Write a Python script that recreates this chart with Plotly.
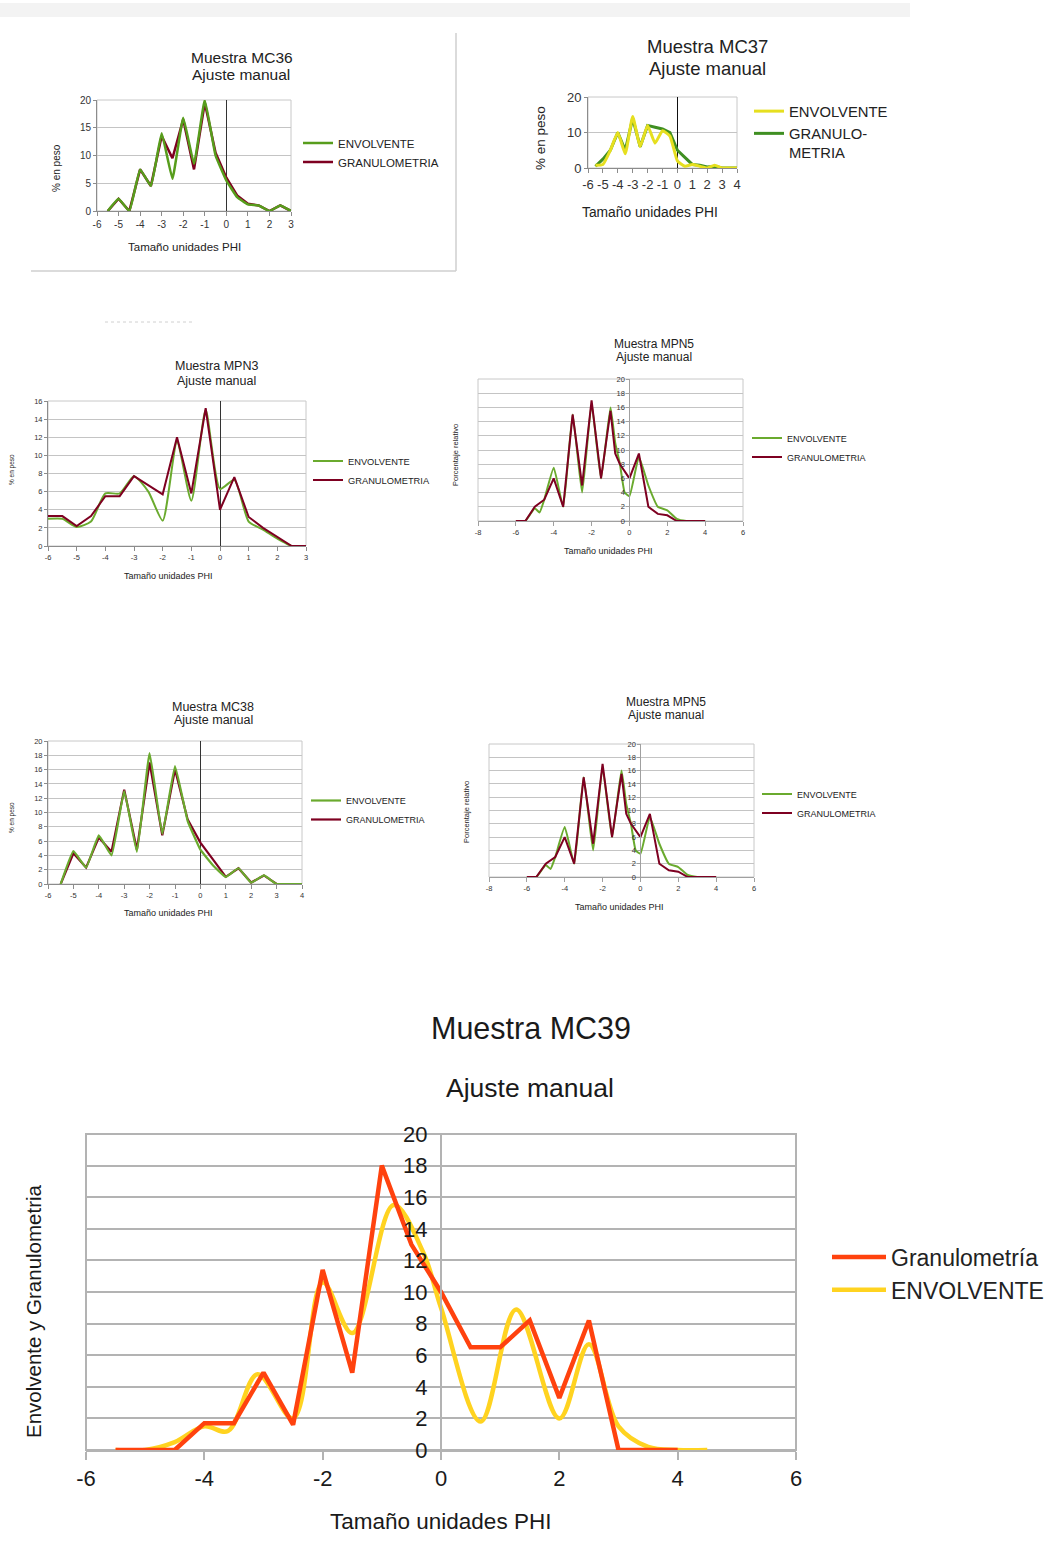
import plotly.graph_objects as go

W, H = 1049, 1551
FONT = "Liberation Sans, Arial, sans-serif"

# ---------------- data ----------------
# Muestra MC36
mc36_x = [-5.5, -5, -4.5, -4, -3.5, -3, -2.5, -2, -1.5, -1, -0.5, 0, 0.5, 1, 1.5, 2, 2.5, 3]
mc36_env = [0, 2.2, 0, 7.5, 4.5, 14, 5.8, 16.8, 8.5, 20, 10, 5.5, 2.5, 1.2, 1, 0, 1, 0]
mc36_gran = [0, 2.2, 0, 7.5, 4.5, 13.5, 9.5, 16.5, 7.5, 19.5, 10.5, 6, 2.8, 1.3, 1, 0, 1, 0]

# Muestra MC37
mc37_x = [-5.5, -5, -4.5, -4, -3.5, -3, -2.5, -2, -1.5, -1, -0.5, 0, 0.5, 1, 1.5, 2, 2.5, 3, 3.5, 4]
mc37_env = [0.8, 1, 5, 10, 4, 14.5, 6, 12, 7, 10.5, 9, 2, 0.5, 1, 0.5, 0, 0.8, 0, 0, 0]
mc37_gran = [0.5, 2.5, 5, 10, 5, 14, 6, 12, 11.5, 11, 10, 5, 3, 1, 0.8, 0.3, 0.5, 0, 0, 0]

# Muestra MPN3
mpn3_x = [-6, -5.5, -5, -4.5, -4, -3.5, -3, -2.5, -2, -1.5, -1, -0.5, 0, 0.5, 1, 1.5, 2, 2.5, 3]
mpn3_env = [3, 3, 2.1, 2.7, 5.8, 5.8, 7.7, 6, 2.8, 11.5, 5, 15, 6.3, 7.3, 2.7, 1.8, 0.8, 0, 0]
mpn3_gran = [3.3, 3.3, 2.2, 3.3, 5.5, 5.5, 7.7, 6.7, 5.7, 12, 5.8, 15.2, 4, 7.6, 3.2, 2, 1, 0, 0]

# Muestra MPN5
mpn5_x = [-6, -5.5, -5, -4.75, -4.5, -4, -3.5, -3, -2.5, -2, -1.5, -1, -0.75, -0.5, -0.25, 0,
          0.5, 1, 1.5, 2, 2.5, 3, 4]
mpn5_env = [0, 0, 1.8, 1.2, 3, 7.5, 2, 15, 4, 16.5, 6, 16, 11, 8, 4, 3.5, 9, 5, 2, 1.5, 0.3, 0, 0]
mpn5_gran = [0, 0, 2, 2.5, 3, 6, 2, 15, 5, 17, 6, 15.5, 9.5, 8, 7, 6, 9.5, 2, 1, 0.8, 0, 0, 0]

# Muestra MC38
mc38_x = [-5.5, -5, -4.5, -4, -3.5, -3, -2.5, -2, -1.5, -1, -0.5, 0, 0.5, 1, 1.5, 2, 2.5, 3, 3.5, 4]
mc38_env = [0, 4.6, 2.3, 6.8, 4, 13, 4.5, 18.3, 7, 16.5, 8.8, 4.8, 2.6, 1, 2.2, 0.2, 1.2, 0, 0, 0]
mc38_gran = [0, 4.3, 2.3, 6.5, 4.5, 13.2, 4.8, 17, 6.8, 16, 9, 5.8, 3.4, 1, 2.2, 0.2, 1.2, 0, 0, 0]

# Muestra MC39
mc39_gx = [-5.5, -5, -4.5, -4, -3.5, -3, -2.5, -2, -1.5, -1, -0.5, 0, 0.5, 1, 1.5, 2, 2.5, 3, 3.5, 4]
mc39_gran = [0, 0, 0, 1.7, 1.7, 4.9, 1.6, 11.4, 4.9, 18, 13, 10, 6.5, 6.5, 8.2, 3.3, 8.2, 0, 0, 0]
mc39_ex = [-5.5, -5, -4.5, -4, -3.6, -3.1, -2.5, -2, -1.5, -0.8, -0.3, 0, 0.67, 1.27, 2, 2.5, 3,
           3.5, 4, 4.5]
mc39_env = [0, 0, 0.5, 1.5, 1.2, 4.8, 2, 10.6, 7.4, 15.5, 12.5, 9, 1.8, 8.9, 2, 6.7, 1.5, 0.2, 0, 0]

# tick values (labels are written with a plain hyphen, as in the source charts)
ticks_x_6_3 = [-6, -5, -4, -3, -2, -1, 0, 1, 2, 3]
ticks_x_6_4 = [-6, -5, -4, -3, -2, -1, 0, 1, 2, 3, 4]
ticks_x_8_6 = [-8, -6, -4, -2, 0, 2, 4, 6]
ticks_x_6_6 = [-6, -4, -2, 0, 2, 4, 6]

# ---------------- styling ----------------
GREEN = "#579d1c"
DRED = "#7e0021"
YELLOW37 = "#e6df1f"
GREEN37 = "#3f8f22"
YELLOW = "#ffd320"
ORANGE = "#ff420e"

fig = go.Figure()


def sfx(i):
    return "" if i == 1 else str(i)


def add_line(x, y, name, color, width, i, spline=0.0):
    line = dict(color=color, width=width)
    if spline:
        line.update(shape="spline", smoothing=spline)
    fig.add_trace(go.Scatter(x=x, y=y, name=name, mode="lines", line=line,
                             xaxis="x" + sfx(i), yaxis="y" + sfx(i),
                             legend="legend" + sfx(i), hoverinfo="skip"))


def setup_axes(i, box, xr, xticks, yr, ydt, tick_size, labels_at_zero=False,
               grid_color="#c4c4c4", grid_w=1, border_color="#c8c8c8", border_w=1,
               zero_color="#333333", axis_color="#8c8c8c", xticklen=4, yticks="outside",
               tick_color="#333333", ystandoff=None):
    l, t, r, b = box
    s = sfx(i)
    tf = dict(size=tick_size, color=tick_color, family=FONT)
    xa = dict(domain=[l / W, r / W], range=xr, tickmode="array", tickvals=xticks,
              ticktext=["%g" % v for v in xticks], tickangle=0, anchor="y" + s,
              showgrid=False, zeroline=not labels_at_zero, zerolinecolor=zero_color,
              zerolinewidth=1, showline=True, linecolor=axis_color, linewidth=border_w,
              ticks="outside", ticklen=xticklen, tickcolor=axis_color, tickwidth=border_w,
              tickfont=tf, fixedrange=True)
    ya = dict(domain=[1 - b / H, 1 - t / H], range=yr, dtick=ydt, tick0=0, showgrid=True,
              gridcolor=grid_color, gridwidth=grid_w, zeroline=False, showline=True,
              linecolor=axis_color, linewidth=border_w, ticks=yticks, ticklen=3,
              tickcolor=axis_color, tickfont=tf, fixedrange=True)
    if ystandoff is not None:
        ya.update(ticklabelstandoff=ystandoff)
    if labels_at_zero:
        ya.update(anchor="free", position=(l + (0 - xr[0]) / (xr[1] - xr[0]) * (r - l)) / W)
    else:
        ya.update(anchor="x" + s)
    fig.update_layout(**{"xaxis" + s: xa, "yaxis" + s: ya})
    fig.add_shape(type="rect", xref="x" + s + " domain", yref="y" + s + " domain",
                  x0=0, x1=1, y0=0, y1=1, line=dict(color=border_color, width=border_w),
                  fillcolor="rgba(0,0,0,0)", layer="below")


def text(s, x, y, size, color="#222222", angle=0, xanchor="center"):
    fig.add_annotation(text=s, x=x / W, y=1 - y / H, xref="paper", yref="paper",
                       showarrow=False, font=dict(size=size, color=color, family=FONT),
                       textangle=angle, xanchor=xanchor, yanchor="middle")


def legend(i, line_x, cy, size, reverse=False, itemwidth=30, yanchor="middle", valign="middle"):
    fig.update_layout(**{"legend" + sfx(i): dict(
        x=(line_x - 6) / W, y=1 - cy / H, xanchor="left", yanchor=yanchor,
        font=dict(size=size, color="#222222", family=FONT), bgcolor="rgba(0,0,0,0)",
        itemwidth=itemwidth, traceorder="reversed" if reverse else "normal",
        valign=valign, tracegroupgap=0)})


# ---- 1: MC36 ----
add_line(mc36_x, mc36_gran, "GRANULOMETRIA", DRED, 2.5, 1)
add_line(mc36_x, mc36_env, "ENVOLVENTE", GREEN, 2.5, 1, 0.3)
setup_axes(1, (97, 100, 291, 211), [-6, 3], ticks_x_6_3, [0, 20], 5, 10)
legend(1, 304, 152.5, 11.5, reverse=True)
text("Muestra MC36", 242, 57, 15.5)
text("Ajuste manual", 241, 74, 15.5)
text("Tamaño unidades PHI", 184, 247, 11.5)
text("% en peso", 57, 168, 10, angle=-90)

# ---- 2: MC37 ----
add_line(mc37_x, mc37_gran, "GRANULO-<br>METRIA", GREEN37, 3, 2)
add_line(mc37_x, mc37_env, "ENVOLVENTE", YELLOW37, 3, 2, 0.4)
setup_axes(2, (588, 97, 737, 168), [-6, 4], ticks_x_6_4, [0, 20], 10, 13, zero_color="#111111")
legend(2, 755, 95, 14.8, reverse=True, yanchor="top", valign="top")
text("Muestra MC37", 707, 47, 18.5)
text("Ajuste manual", 707, 69, 18.5)
text("Tamaño unidades PHI", 650, 212, 13.8)
text("% en peso", 541, 138, 13.5, angle=-90)

# ---- 3: MPN3 ----
add_line(mpn3_x, mpn3_env, "ENVOLVENTE", "#6aaa2e", 2, 3, 0.6)
add_line(mpn3_x, mpn3_gran, "GRANULOMETRIA", DRED, 2, 3)
setup_axes(3, (48, 401, 306, 546), [-6, 3], ticks_x_6_3, [0, 16], 2, 7.5)
legend(3, 314, 470.5, 9.3)
text("Muestra MPN3", 216, 366, 12.5)
text("Ajuste manual", 216, 381, 12.5)
text("Tamaño unidades PHI", 168, 576, 9)
text("% en peso", 12, 470, 6.5, angle=-90)

# ---- 4: MPN5 (upper) ----
add_line(mpn5_x, mpn5_env, "ENVOLVENTE", "#6aaa2e", 2, 4, 0.4)
add_line(mpn5_x, mpn5_gran, "GRANULOMETRIA", DRED, 2, 4)
setup_axes(4, (478, 379, 743, 521), [-8, 6], ticks_x_8_6, [0, 20], 2, 7.5, labels_at_zero=True,
           axis_color="#a0a0a0")
legend(4, 753, 447.5, 9)
text("Muestra MPN5", 654, 344, 12)
text("Ajuste manual", 654, 357, 12)
text("Tamaño unidades PHI", 608, 551, 9)
text("Porcentaje relativo", 455, 455, 7.5, angle=-90)

# ---- 5: MC38 ----
add_line(mc38_x, mc38_gran, "GRANULOMETRIA", DRED, 2.2, 5)
add_line(mc38_x, mc38_env, "ENVOLVENTE", "#6aaa2e", 2.2, 5, 0.3)
setup_axes(5, (48, 741, 302, 884), [-6, 4], ticks_x_6_4, [0, 20], 2, 7.5)
legend(5, 312, 810, 9)
fig.update_layout(legend5_traceorder="reversed")
text("Muestra MC38", 213, 707, 12.5)
text("Ajuste manual", 213, 720, 12.5)
text("Tamaño unidades PHI", 168, 913, 9)
text("% en peso", 12, 818, 6.5, angle=-90)

# ---- 6: MPN5 (lower) ----
add_line(mpn5_x, mpn5_env, "ENVOLVENTE", "#6aaa2e", 2, 6, 0.4)
add_line(mpn5_x, mpn5_gran, "GRANULOMETRIA", DRED, 2, 6)
setup_axes(6, (489, 744, 754, 877), [-8, 6], ticks_x_8_6, [0, 20], 2, 7.5, labels_at_zero=True,
           axis_color="#a0a0a0")
legend(6, 763, 803.5, 9)
text("Muestra MPN5", 666, 702, 12)
text("Ajuste manual", 666, 715, 12)
text("Tamaño unidades PHI", 620, 907, 9)
text("Porcentaje relativo", 466, 812, 7.5, angle=-90)

# ---- 7: MC39 ----
add_line(mc39_ex, mc39_env, "ENVOLVENTE", YELLOW, 4.5, 7, 1.0)
add_line(mc39_gx, mc39_gran, "Granulometría", ORANGE, 4.5, 7)
setup_axes(7, (86, 1134, 796, 1450), [-6, 6], ticks_x_6_6, [0, 20], 2, 22, labels_at_zero=True,
           grid_color="#b3b3b3", grid_w=2, border_color="#b3b3b3", border_w=2,
           axis_color="#b3b3b3", xticklen=8, yticks="", tick_color="#1a1a1a", ystandoff=8)
legend(7, 833, 1273.5, 23, reverse=True, itemwidth=54)
text("Muestra MC39", 531, 1028, 30.5, color="#1a1a1a")
text("Ajuste manual", 530, 1088, 26.5, color="#1a1a1a")
text("Tamaño unidades PHI", 440, 1521, 22.5, color="#1a1a1a")
text("Envolvente y Granulometria", 33, 1311, 20.5, color="#1a1a1a", angle=-90)

# ---- decorations (page frame of the first chart, top band) ----
fig.add_shape(type="rect", xref="paper", yref="paper", x0=0, x1=910 / W,
              y0=1 - 17 / H, y1=1 - 3 / H, line=dict(width=0), fillcolor="#f3f3f3")
fig.add_shape(type="line", xref="paper", yref="paper", x0=31 / W, x1=456 / W,
              y0=1 - 271 / H, y1=1 - 271 / H, line=dict(color="#cfcfcf", width=1.5))
fig.add_shape(type="line", xref="paper", yref="paper", x0=456 / W, x1=456 / W,
              y0=1 - 271 / H, y1=1 - 33 / H, line=dict(color="#cfcfcf", width=1.5))
fig.add_shape(type="line", xref="paper", yref="paper", x0=105 / W, x1=195 / W,
              y0=1 - 322 / H, y1=1 - 322 / H, line=dict(color="#d0d0d0", width=1, dash="dot"))

fig.update_layout(
    width=W, height=H, autosize=False,
    margin=dict(l=0, r=0, t=0, b=0, pad=0, autoexpand=False),
    paper_bgcolor="white", plot_bgcolor="white",
    showlegend=True, font=dict(family=FONT, color="#222222"),
)

fig.write_html("out.html", config={"displayModeBar": False},
               post_script="document.body.style.margin='0px';")
